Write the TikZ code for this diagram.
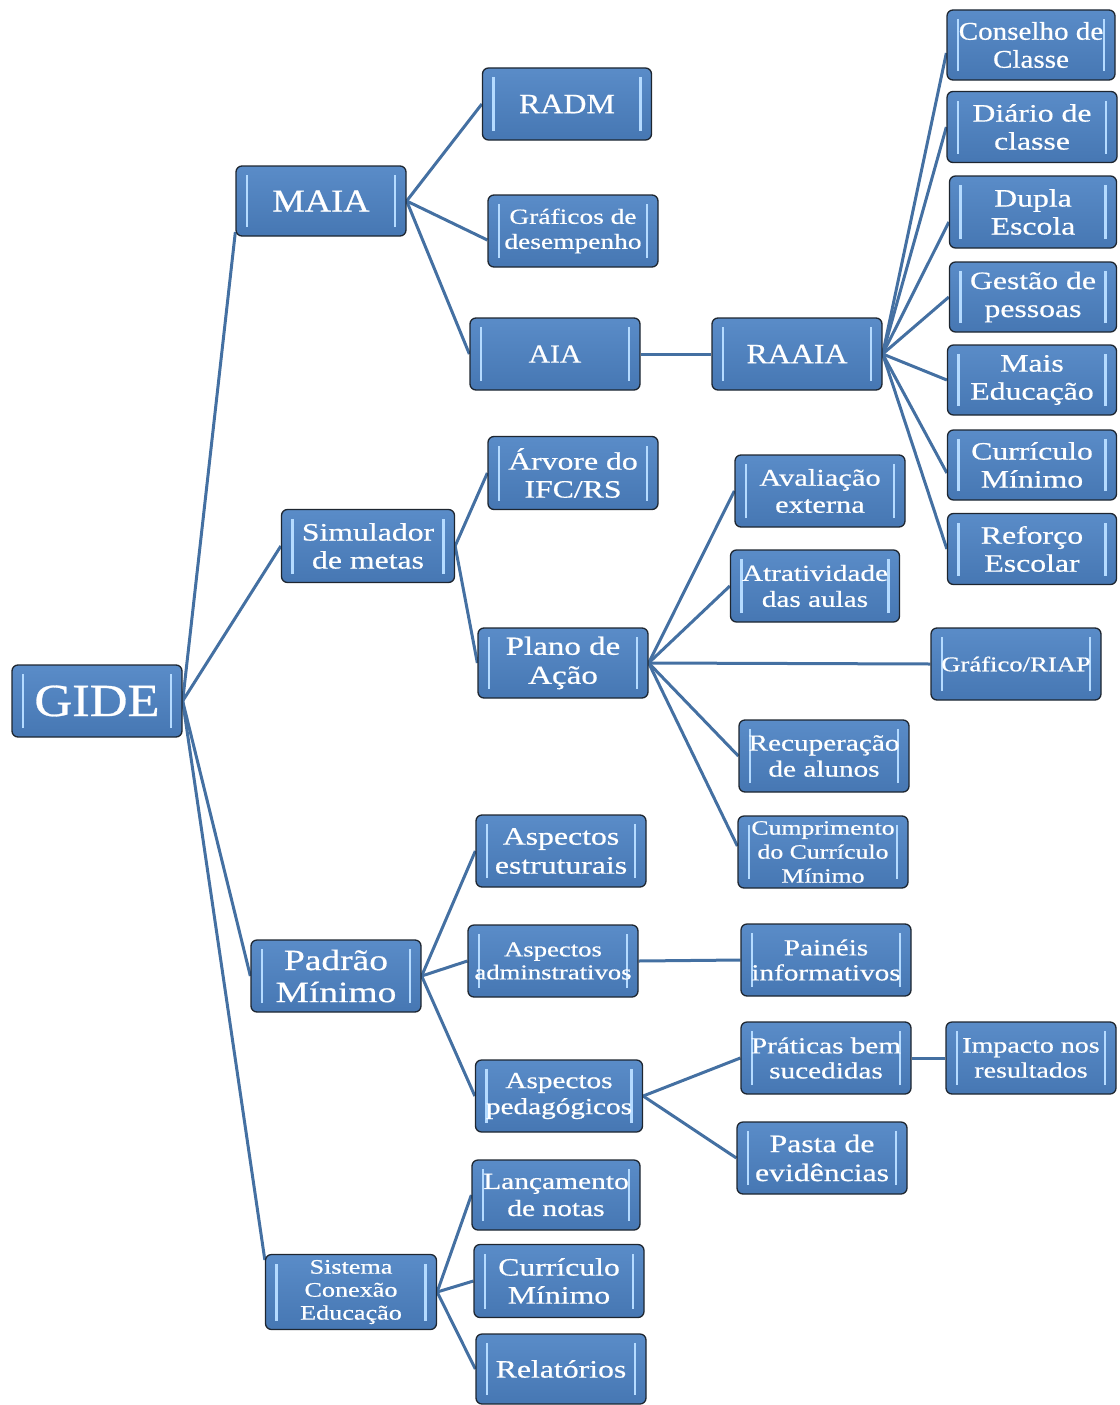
\documentclass[tikz,border=0pt]{standalone}
\usepackage{fontspec}
\setmainfont[FakeStretch=1.27,FakeBold=0.6]{Liberation Serif}
\newfontfamily\plainf[FakeStretch=1.14,FakeBold=0.6]{Liberation Serif}
\usetikzlibrary{backgrounds}

\definecolor{boxtop}{HTML}{5A8CC8}
\definecolor{boxbot}{HTML}{4677B3}
\definecolor{barblue}{HTML}{B5DBFF}
\definecolor{linkblue}{HTML}{4470A2}
\definecolor{edgegray}{HTML}{1E2630}

\newcommand{\fs}[2]{\fontsize{#1}{#2}\selectfont}

\tikzset{
  box/.style={draw=edgegray, line width=1.3pt, rounded corners=6pt,
    top color=boxtop, bottom color=boxbot, text=white, align=center,
    inner sep=0pt, minimum width=170pt, minimum height=72pt,
    font=\fs{25}{28},
    path picture={
      \draw[barblue, line width=2.6pt]
        ([xshift=11pt,yshift=9pt]path picture bounding box.south west) --
        ([xshift=11pt,yshift=-9pt]path picture bounding box.north west);
      \draw[barblue, line width=2.6pt]
        ([xshift=-11pt,yshift=9pt]path picture bounding box.south east) --
        ([xshift=-11pt,yshift=-9pt]path picture bounding box.north east);
    }},
  link/.style={draw=linkblue, line width=3pt}
}

\begin{document}
\begin{tikzpicture}[x=1pt,y=-1pt]
\useasboundingbox (0,0) rectangle (1119,1405);

% root and first level
\node[box, font=\plainf\fs{46}{50}] (gide) at (97,701) {GIDE};
\node[box, minimum height=70pt, font=\plainf\fs{32}{34}] (maia) at (321,201) {MAIA};
\node[box, minimum width=173pt, minimum height=73pt] (simul) at (368,546) {Simulador\\de metas};
\node[box, font=\fs{29.5}{32}] (padrao) at (336,976) {Padrão\\Mínimo};
\node[box, minimum width=171pt, minimum height=75pt, font=\fs{20.6}{23}] (sistema) at (351,1292) {Sistema\\Conexão\\Educação};

% MAIA branch
\node[box, minimum width=169pt, font=\plainf\fs{28}{30}] (radm) at (567,104) {RADM};
\node[box, font=\fs{21.6}{25}] (graf) at (573,231) {Gráficos de\\desempenho};
\node[box, font=\plainf\fs{26}{28}] (aia) at (555,354) {AIA};
\node[box, font=\plainf\fs{28}{29}] (raaia) at (797,354) {RAAIA};

% RAAIA branch
\node[box, minimum width=168pt, minimum height=70pt, font=\plainf\fs{25.5}{28}] (cons) at (1031,45) {Conselho de\\Classe};
\node[box, minimum height=71pt] (diario) at (1032,127) {Diário de\\classe};
\node[box, minimum width=167pt] (dupla) at (1033,212) {Dupla\\Escola};
\node[box, minimum width=167pt, minimum height=70pt] (gestao) at (1033,297) {Gestão de\\pessoas};
\node[box, minimum width=169pt, minimum height=70pt] (mais) at (1032,380) {Mais\\Educação};
\node[box, minimum width=169pt, minimum height=70pt] (curri) at (1032,465) {Currículo\\Mínimo};
\node[box, minimum width=169pt, minimum height=71pt] (reforco) at (1032,549) {Reforço\\Escolar};

% Simulador branch
\node[box, minimum height=73pt] (arvore) at (573,473) {Árvore do\\IFC/RS};
\node[box, minimum height=70pt, font=\fs{26}{29}] (plano) at (563,663) {Plano de\\Ação};
\node[box, font=\fs{24}{27}] (aval) at (820,491) {Avaliação\\externa};
\node[box, minimum width=169pt, font=\fs{23}{26}] (atrat) at (815,586) {Atratividade\\das aulas};
\node[box, font=\fs{21}{22}] (riap) at (1016,664) {Gráfico/RIAP};
\node[box, font=\fs{23}{26}] (recup) at (824,756) {Recuperação\\de alunos};
\node[box, font=\fs{20.3}{24}] (cumpr) at (823,852) {Cumprimento\\do Currículo\\Mínimo};

% Padrão Mínimo branch
\node[box, font=\fs{25}{29}] (aestr) at (561,851) {Aspectos\\estruturais};
\node[box, font=\fs{21}{23}] (aadm) at (553,961) {Aspectos\\adminstrativos};
\node[box, font=\fs{23}{25}] (paineis) at (826,960) {Painéis\\informativos};
\node[box, minimum width=167pt, font=\fs{23}{26}] (aped) at (559,1096) {Aspectos\\pedagógicos};
\node[box, font=\fs{23}{25}] (praticas) at (826,1058) {Práticas bem\\sucedidas};
\node[box, font=\fs{22}{25}] (impacto) at (1031,1058) {Impacto nos\\resultados};
\node[box, font=\fs{25}{29}] (pasta) at (822,1158) {Pasta de\\evidências};

% Sistema branch
\node[box, minimum width=168pt, minimum height=70pt, font=\fs{23.2}{27}] (lanc) at (556,1195) {Lançamento\\de notas};
\node[box, minimum height=73pt, font=\fs{25}{28}] (curri2) at (559,1281) {Currículo\\Mínimo};
\node[box, minimum height=70pt, font=\fs{25}{28}] (relat) at (561,1369) {Relatórios};

% connectors behind the boxes
\begin{scope}[on background layer]
\draw[link] (gide.east) -- ([yshift=-31pt]maia.west);
\draw[link] (gide.east) -- (simul.west);
\draw[link] (gide.east) -- (padrao.west);
\draw[link] (gide.east) -- ([yshift=32pt]sistema.west);

\draw[link] (maia.east) -- (radm.west);
\draw[link] (maia.east) -- ([yshift=-9pt]graf.west);
\draw[link] (maia.east) -- (aia.west);
\draw[link] (aia.east) -- (raaia.west);

\draw[link] (raaia.east) -- ([yshift=-8pt]cons.west);
\draw[link] (raaia.east) -- (diario.west);
\draw[link] (raaia.east) -- ([yshift=-10pt]dupla.west);
\draw[link] (raaia.east) -- (gestao.west);
\draw[link] (raaia.east) -- (mais.west);
\draw[link] (raaia.east) -- ([yshift=-8pt]curri.west);
\draw[link] (raaia.east) -- (reforco.west);

\draw[link] (simul.east) -- (arvore.west);
\draw[link] (simul.east) -- (plano.west);
\draw[link] (plano.east) -- (aval.west);
\draw[link] (plano.east) -- (atrat.west);
\draw[link] (plano.east) -- (riap.west);
\draw[link] (plano.east) -- (recup.west);
\draw[link] (plano.east) -- ([yshift=6pt]cumpr.west);

\draw[link] (padrao.east) -- (aestr.west);
\draw[link] (padrao.east) -- (aadm.west);
\draw[link] (padrao.east) -- (aped.west);
\draw[link] (aadm.east) -- (paineis.west);
\draw[link] (aped.east) -- (praticas.west);
\draw[link] (aped.east) -- (pasta.west);
\draw[link] (praticas.east) -- (impacto.west);

\draw[link] (sistema.east) -- (lanc.west);
\draw[link] (sistema.east) -- (curri2.west);
\draw[link] (sistema.east) -- (relat.west);
\end{scope}
\end{tikzpicture}
\end{document}
